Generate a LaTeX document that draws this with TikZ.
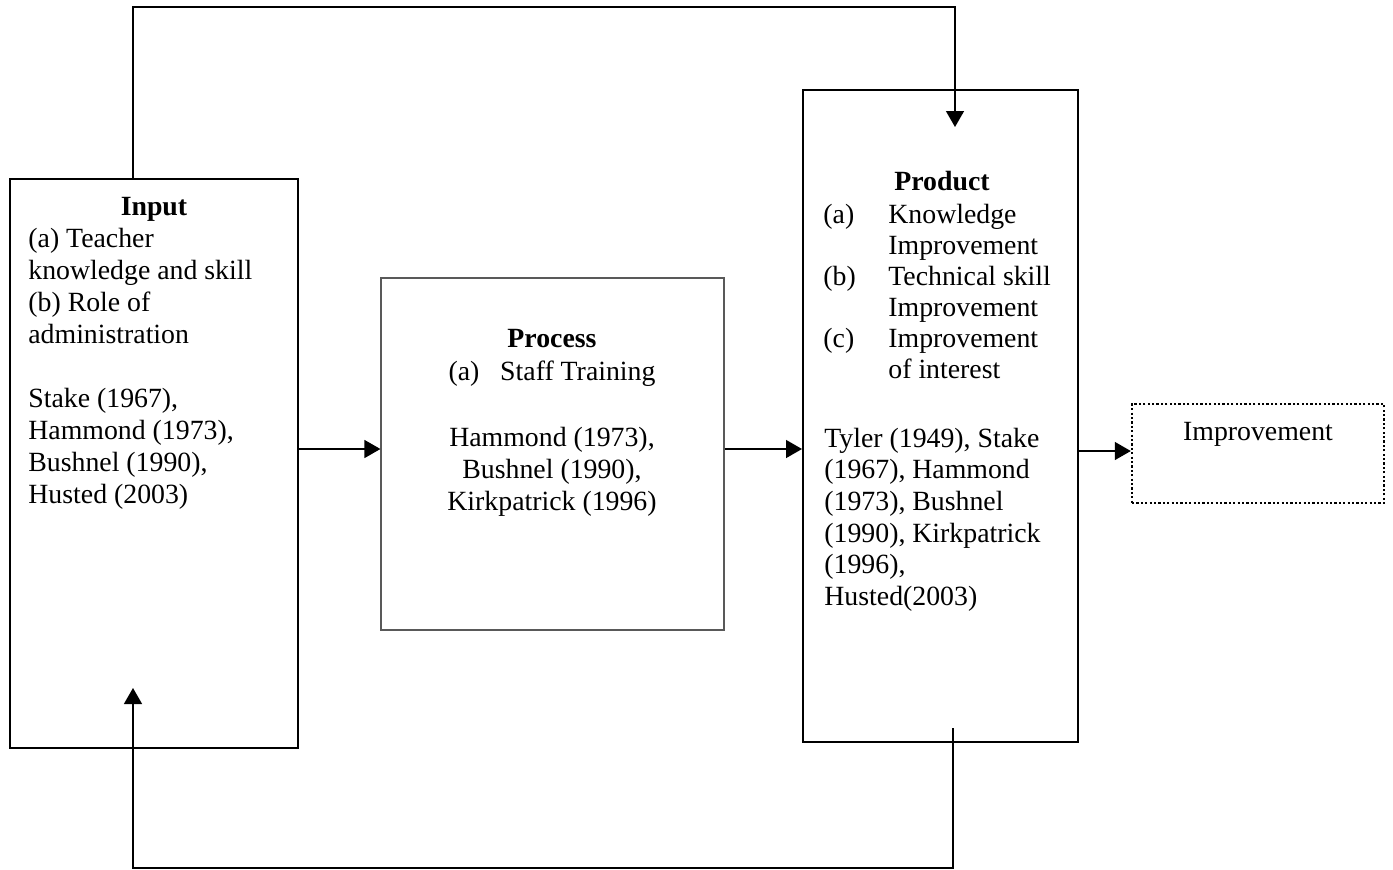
\documentclass[tikz,border=0pt]{standalone}
\usepackage{fontspec}
\setmainfont{Liberation Serif}
\usetikzlibrary{arrows.meta,fit}
\begin{document}
\begin{tikzpicture}[x=0.5pt,y=-0.5pt,
  txt/.style={inner sep=0pt, font=\fontsize{13.9pt}{16pt}\selectfont},
  ttl/.style={inner sep=0pt, font=\fontsize{13.9pt}{16pt}\selectfont\bfseries},
  mainbox/.style={draw=black, line width=1pt, inner sep=0pt},
  procbox/.style={draw=black!65, line width=0.6pt, inner sep=0pt},
  dotbox/.style={draw=black, line width=1.2pt, dash pattern=on 1.1pt off 1.1pt, inner sep=0pt},
  conn/.style={draw=black, line width=0.7pt},
  arr/.style={conn, -{Triangle[length=8pt,width=9pt]}}]
\useasboundingbox (0,0) rectangle (1393,869);
\fill[white] (0,0) rectangle (1393,869);

% boxes
\node[mainbox, fit={(10,179)(298,748)}] (input) {};
\node[procbox, fit={(381,278)(724,630)}] (process) {};
\node[mainbox, fit={(803,90)(1078,742)}] (product) {};
\node[dotbox, fit={(1132,404)(1384,503)}] (improve) {};

% Input text
\node[ttl, anchor=base] (inT) at (154,215) {Input};
\node[txt, anchor=base west] (in1) at (28,247) {(a) Teacher};
\node[txt, anchor=base west] (in2) at (28,279) {knowledge and skill};
\node[txt, anchor=base west] (in3) at (28,311) {(b) Role of};
\node[txt, anchor=base west] (in4) at (28,343) {administration};
\node[txt, anchor=base west] (in5) at (28,407) {Stake (1967),};
\node[txt, anchor=base west] (in6) at (28,439) {Hammond (1973),};
\node[txt, anchor=base west] (in7) at (28,471) {Bushnel (1990),};
\node[txt, anchor=base west] (in8) at (28,503) {Husted (2003)};

% Process text
\node[ttl, anchor=base] (prT) at (552,347) {Process};
\node[txt, anchor=base] (pr1) at (552,380) {(a)\hspace{0.75em}Staff Training};
\node[txt, anchor=base] (pr2) at (552,446) {Hammond (1973),};
\node[txt, anchor=base] (pr3) at (552,478) {Bushnel (1990),};
\node[txt, anchor=base] (pr4) at (552,510) {Kirkpatrick (1996)};

% Product text
\node[ttl, anchor=base] (pdT) at (942,190) {Product};
\node[txt, anchor=base west] (pa) at (823,223) {(a)};
\node[txt, anchor=base west] (pa1) at (888,223) {Knowledge};
\node[txt, anchor=base west] (pa2) at (888,254) {Improvement};
\node[txt, anchor=base west] (pb) at (823,285) {(b)};
\node[txt, anchor=base west] (pb1) at (888,285) {Technical skill};
\node[txt, anchor=base west] (pb2) at (888,316) {Improvement};
\node[txt, anchor=base west] (pc) at (823,347) {(c)};
\node[txt, anchor=base west] (pc1) at (888,347) {Improvement};
\node[txt, anchor=base west] (pc2) at (888,378) {of interest};
\node[txt, anchor=base west] (pr5) at (824,447) {Tyler (1949), Stake};
\node[txt, anchor=base west] (pr6) at (824,478) {(1967), Hammond};
\node[txt, anchor=base west] (pr7) at (824,510) {(1973), Bushnel};
\node[txt, anchor=base west] (pr8) at (824,542) {(1990), Kirkpatrick};
\node[txt, anchor=base west] (pr9) at (824,573) {(1996),};
\node[txt, anchor=base west] (pr10) at (824,605) {Husted(2003)};

% Improvement text
\node[txt, anchor=base] (impT) at (1258,440) {Improvement};

% connector coordinates
\coordinate (inTop) at (133,179);
\coordinate (topY) at (0,7);
\coordinate (prodIn) at (955,127);
\coordinate (prodOut) at (953,728);
\coordinate (botY) at (0,868);
\coordinate (inIn) at (133,688);
\coordinate (midY) at (0,449);
\coordinate (impY) at (0,451);

% connectors
\draw[arr] (inTop) |- (prodIn |- topY) -- (prodIn);
\draw[arr] (prodOut) |- (inIn |- botY) -- (inIn);
\draw[arr] (input.east |- midY) -- (process.west |- midY);
\draw[arr] (process.east |- midY) -- (product.west |- midY);
\draw[arr] (product.east |- impY) -- (improve.west |- impY);
\end{tikzpicture}
\end{document}
